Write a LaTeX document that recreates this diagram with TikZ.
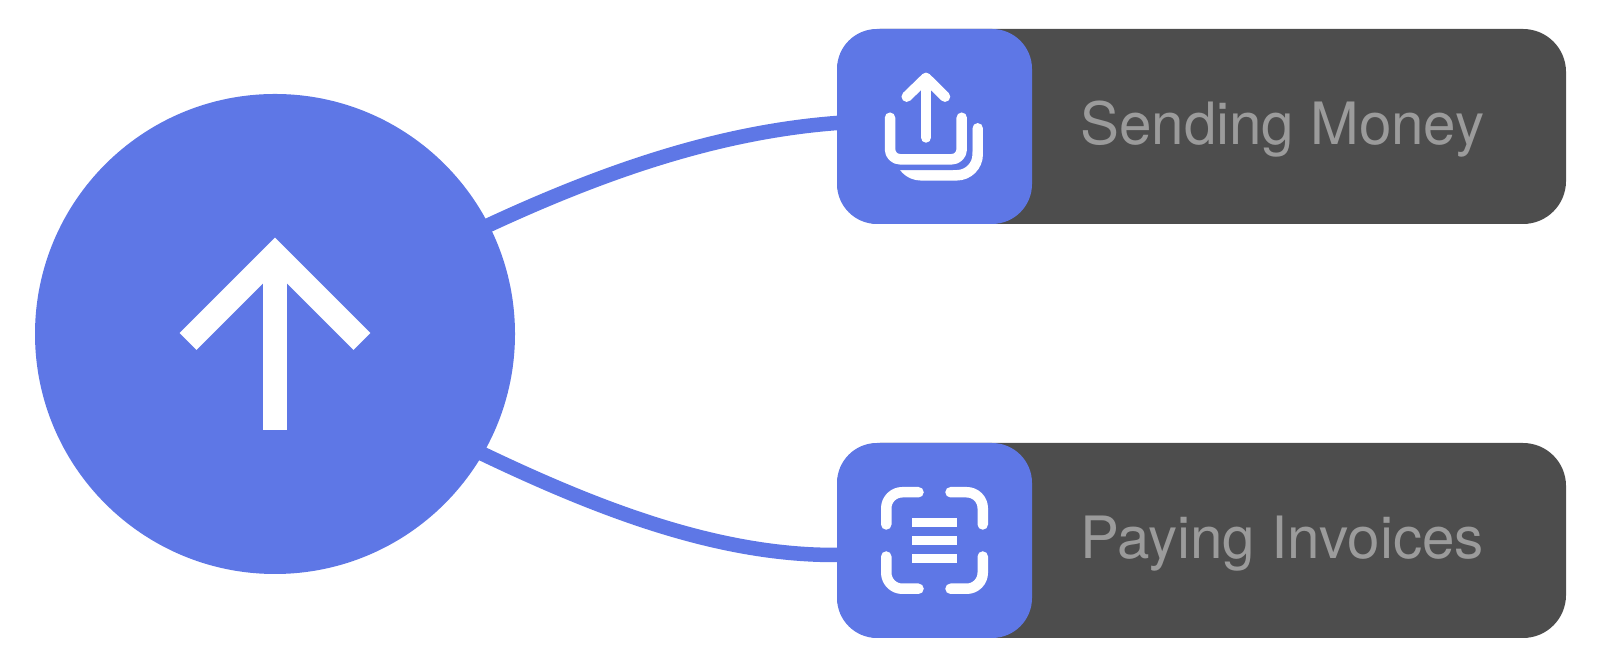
\documentclass[tikz,border=0pt]{standalone}
\usepackage{fontspec}
\setmainfont{TeX Gyre Heros}
\usepackage{xcolor}
\usetikzlibrary{positioning}
\definecolor{hubblue}{RGB}{94,119,230}
\definecolor{bardark}{RGB}{77,77,77}
\definecolor{labelgray}{RGB}{155,155,155}

\begin{document}
\begin{tikzpicture}[
    hubnode/.style={circle, fill=hubblue, minimum size=9.6cm, inner sep=0pt},
    barbox/.style={rectangle, fill=bardark, minimum width=14.58cm, minimum height=3.9cm, rounded corners=0.86cm, inner sep=0pt},
    iconbox/.style={rectangle, fill=hubblue, minimum width=3.9cm, minimum height=3.9cm, rounded corners=0.8cm, inner sep=0pt},
    barlabel/.style={text=labelgray, inner sep=0pt, text height=27.4pt, text depth=7pt, font=\fontsize{33.2}{40}\selectfont},
    link/.style={draw=hubblue, line width=0.29cm, shorten <=-0.2cm, shorten >=-0.1cm},
    iconline/.style={draw=white, line width=0.21cm, line cap=round, line join=round},
    scanline/.style={draw=white, line width=0.18cm},
    hubarrow/.style={draw=white, line width=0.48cm, miter limit=10}
]
    \useasboundingbox (0, 0) rectangle (32.4, 13.32);

    % Left: hub circle
    \node (hub) at (5.5, 6.64) [hubnode] {};
    \draw [hubarrow] (3.76, 6.49) -- (5.5, 8.23) -- (7.24, 6.49);
    \draw [hubarrow] (5.5, 8.0) -- (5.5, 4.72);

    % Row 1: Sending Money
    \node (sendbar) at (24.03, 10.79) [barbox] {};
    \node (sendicon) at (18.69, 10.79) [iconbox] {};
    \node (sendlabel) [barlabel, right=0.95cm of sendicon] {Sending Money};

    % Row 2: Paying Invoices
    \node (paybar) at (24.03, 2.51) [barbox] {};
    \node (payicon) at (18.69, 2.51) [iconbox] {};
    \node (paylabel) [barlabel, right=0.95cm of payicon] {Paying Invoices};

    % Curved connections
    \draw [link] (hub.27.5) .. controls (12.08, 9.90) and (14.42, 10.70) .. ([yshift=0.07cm]sendicon.west);
    \draw [link] (hub.-30.7) .. controls (11.94, 3.14) and (14.40, 2.18) .. ([yshift=-0.29cm]payicon.west);

    % Upload glyph
    \begin{scope}[shift={(sendicon.center)}]
        \draw [iconline, rounded corners=0.42cm] (0.864, -0.036) |- (-0.69, -0.976) -- (-0.69, -0.5);
        \draw [draw=hubblue, fill=hubblue, line width=0.43cm, rounded corners=0.2cm] (-0.89, 0.176) |- (0.544, -0.656) -- (0.544, 0.176) -- cycle;
        \draw [iconline, rounded corners=0.2cm] (-0.89, 0.176) |- (0.544, -0.656) -- (0.544, 0.176);
        \draw [iconline] (-0.17, -0.22) -- (-0.17, 0.97);
        \draw [iconline] (-0.556, 0.596) -- (-0.17, 0.97) -- (0.21, 0.596);
    \end{scope}

    % Scan glyph
    \begin{scope}[shift={(payicon.center)}]
        \draw [iconline, rounded corners=0.32cm] (-0.965, 0.32) |- (-0.32, 0.965);
        \draw [iconline, rounded corners=0.32cm] (0.965, 0.32) |- (0.32, 0.965);
        \draw [iconline, rounded corners=0.32cm] (-0.965, -0.32) |- (-0.32, -0.965);
        \draw [iconline, rounded corners=0.32cm] (0.965, -0.32) |- (0.32, -0.965);
        \foreach \liney in {0.36, 0, -0.36} {
            \draw [scanline] (-0.45, \liney) -- (0.45, \liney);
        }
    \end{scope}
\end{tikzpicture}
\end{document}
